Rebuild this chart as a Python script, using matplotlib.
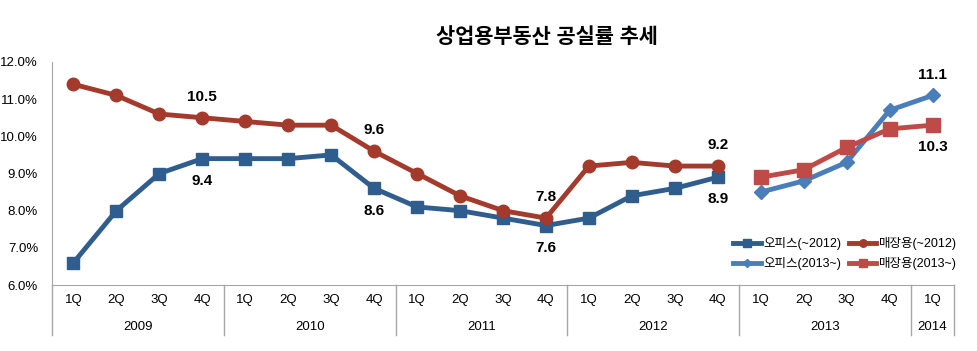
import numpy as np
import matplotlib.pyplot as plt
from matplotlib.transforms import blended_transform_factory

plt.rcParams['font.family'] = ['Liberation Sans', 'Noto Sans CJK KR', 'DejaVu Sans']

years = ['2009', '2010', '2011', '2012', '2013', '2014']
year_quarters = [4, 4, 4, 4, 4, 1]
quarters = ['1Q', '2Q', '3Q', '4Q'] * 5 + ['1Q']

office_old = [6.6, 8.0, 9.0, 9.4, 9.4, 9.4, 9.5, 8.6, 8.1, 8.0, 7.8, 7.6, 7.8, 8.4, 8.6, 8.9]
retail_old = [11.4, 11.1, 10.6, 10.5, 10.4, 10.3, 10.3, 9.6, 9.0, 8.4, 8.0, 7.8, 9.2, 9.3, 9.2, 9.2]
office_new = [8.5, 8.8, 9.3, 10.7, 11.1]
retail_new = [8.9, 9.1, 9.7, 10.2, 10.3]

labels_office = [(3, '9.4'), (7, '8.6'), (11, '7.6'), (15, '8.9')]
labels_retail = [(3, '10.5'), (7, '9.6'), (11, '7.8'), (15, '9.2')]

c_off1 = '#2F5D8E'
c_ret1 = '#A33A2C'
c_off2 = '#4A7EBB'
c_ret2 = '#BE4B48'

fig = plt.figure(figsize=(9.77, 3.51), dpi=100)
ax = fig.add_axes([52/977, 66/351, (954-52)/977, (285-62)/351])

x_old = np.arange(len(office_old))
x_new = np.arange(len(office_old), len(office_old) + len(office_new))

h1, = ax.plot(x_old, office_old, color=c_off1, lw=3.5, marker='s', ms=9,
              label='오피스(~2012)')
h2, = ax.plot(x_old, retail_old, color=c_ret1, lw=3.5, marker='o', ms=9,
              label='매장용(~2012)')
h3, = ax.plot(x_new, office_new, color=c_off2, lw=3.5, marker='D', ms=7,
              label='오피스(2013~)')
h4, = ax.plot(x_new, retail_new, color=c_ret2, lw=3.5, marker='s', ms=10,
              label='매장용(2013~)')

lab = dict(textcoords='offset points', ha='center', va='center',
           fontsize=11, fontweight='bold')
for i, t in labels_office:
    ax.annotate(t, (i, office_old[i]), xytext=(0, -16), **lab)
for i, t in labels_retail:
    ax.annotate(t, (i, retail_old[i]), xytext=(0, 15), **lab)
ax.annotate('11.1', (x_new[-1], office_new[-1]), xytext=(0, 15), **lab)
ax.annotate('10.3', (x_new[-1], retail_new[-1]), xytext=(0, -16), **lab)

ax.set_xlim(-0.5, 20.5)
ax.set_ylim(6, 12)
ax.set_yticks(np.arange(6, 12.1, 1))
ax.set_yticklabels(['%.1f%%' % v for v in np.arange(6, 12.1, 1)], fontsize=9.5)
ax.set_xticks([])
ax.tick_params(axis='y', length=0, pad=10)
for s in ['top', 'right']:
    ax.spines[s].set_visible(False)
ax.spines['left'].set_color('#A6A6A6')
ax.spines['bottom'].set_color('#A6A6A6')

# category table below axis
tr = blended_transform_factory(ax.transData, ax.transAxes)
axh = (285-62)
for i, q in enumerate(quarters):
    ax.text(i, -15/axh, q, transform=tr, ha='center', va='center', fontsize=9.5)
edges = np.concatenate([[0], np.cumsum(year_quarters)]) - 0.5
for k, y in enumerate(years):
    ax.text((edges[k] + edges[k+1]) / 2, -42/axh, y, transform=tr,
            ha='center', va='center', fontsize=9.5)
for e in edges:
    ax.plot([e, e], [0, -50/axh], transform=tr, color='#A6A6A6', lw=1, clip_on=False)

fig.text(547/977, 1 - 37/351, '상업용부동산 공실률 추세', ha='center', va='center',
         fontsize=15, fontweight='bold')

fig.legend(handles=[h1, h3, h2, h4], ncol=2, frameon=False, fontsize=9,
           loc='upper left', bbox_to_anchor=(722/977, 1 - 226/351),
           handlelength=2.2, handletextpad=0.2, columnspacing=0.6, labelspacing=0.55,
           markerscale=0.6)

fig.savefig('out.png', dpi=100)
